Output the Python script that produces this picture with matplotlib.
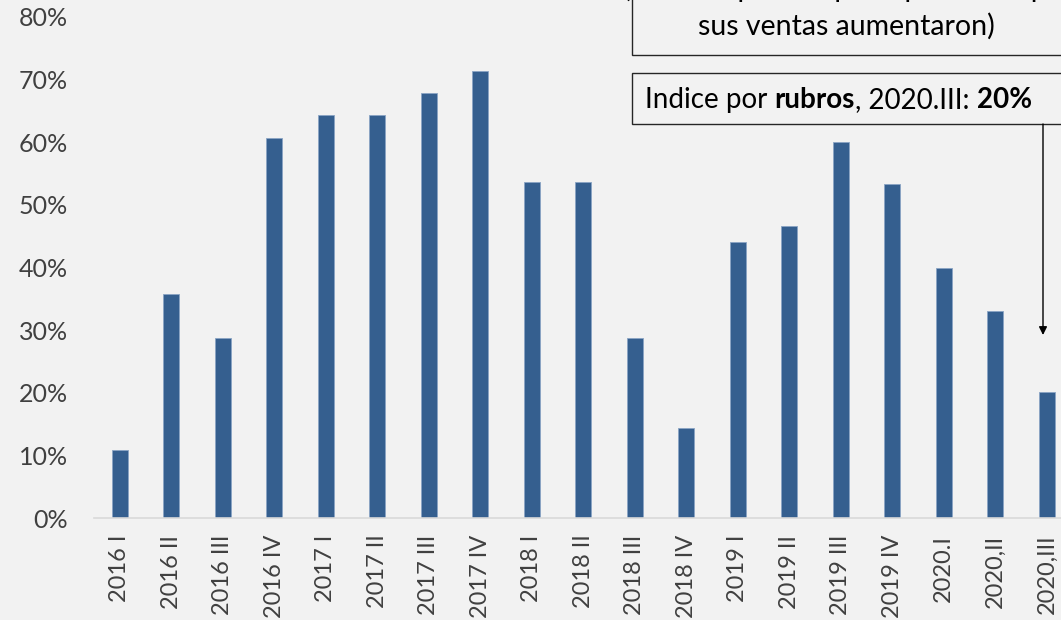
import numpy as np
import matplotlib.pyplot as plt
from matplotlib.patches import Rectangle

plt.rcParams['font.family'] = ['Lato', 'DejaVu Sans']

trimestres = ['2016 I', '2016 II', '2016 III', '2016 IV',
              '2017 I', '2017 II', '2017 III', '2017 IV',
              '2018 I', '2018 II', '2018 III', '2018 IV',
              '2019 I', '2019 II', '2019 III', '2019 IV',
              '2020.I', '2020,II', '2020,III']
indice = [10.9, 35.8, 28.7, 60.7, 64.3, 64.3, 67.8, 71.4,
          53.6, 53.6, 28.7, 14.4, 44.0, 46.7, 60.0, 53.4,
          40.0, 33.1, 20.1]
yticks = [0, 10, 20, 30, 40, 50, 60, 70, 80]

fondo = '#f2f2f2'
W, H = 1061, 620
fig = plt.figure(figsize=(W / 100, H / 100), dpi=100, facecolor=fondo)
# el grafico original esta recortado a la derecha
ax = fig.add_axes([94 / W, 1 - 518 / H, 19 * 51.5 / W, 501 / H], facecolor=fondo)

x = np.arange(len(trimestres))
ax.bar(x, np.array(indice) / 100, width=0.31, color='#355f8f',
       edgecolor='#8aa4c4', linewidth=0.6)

ax.set_xlim(-0.5, len(trimestres) - 0.5)
ax.set_ylim(0, 0.8)
ax.set_yticks([v / 100 for v in yticks])
ax.set_yticklabels([f'{v}%' for v in yticks], fontsize=18, color='#404040')
ax.set_xticks(x)
ax.set_xticklabels(trimestres, rotation=90, fontsize=17, color='#404040')
ax.tick_params(length=0, axis='both')
ax.tick_params(axis='y', pad=19)
ax.tick_params(axis='x', pad=12)
for s in ['top', 'right', 'left']:
    ax.spines[s].set_visible(False)
ax.spines['bottom'].set_color('#d9d9d9')
ax.spines['bottom'].set_linewidth(1.2)

# cuadros de texto
fig.patches.append(Rectangle((632 / W, 1 - 55 / H), 0.5, 0.5, transform=fig.transFigure,
                             facecolor=fondo, edgecolor='#262626', linewidth=1))
fig.text(846 / W, 1 + 12 / H, '(% de empresas que reportaron que', ha='center', va='center',
         fontsize=20.5, color='black')
fig.text(846 / W, 1 - 26 / H, 'sus ventas aumentaron)', ha='center', va='center',
         fontsize=20.5, color='black')

fig.patches.append(Rectangle((632 / W, 1 - 124 / H), 0.5, 51 / H, transform=fig.transFigure,
                             facecolor=fondo, edgecolor='#262626', linewidth=1))
t = fig.text(645 / W, 1 - 108 / H, 'Indice por ', fontsize=20, va='baseline')
fig.canvas.draw()
r = fig.canvas.get_renderer()
partes = [('rubros', 'bold'), (', 2020.III: ', 'normal'), ('20%', 'bold')]
x0 = t.get_window_extent(r).x1
for txt, peso in partes:
    t = fig.text(x0 / W, 1 - 108 / H, txt, fontsize=20, fontweight=peso, va='baseline')
    fig.canvas.draw()
    x0 = t.get_window_extent(r).x1

fig.add_artist(plt.Annotation('', xy=(1043, H - 335), xytext=(1043, H - 124),
                              xycoords='figure pixels', textcoords='figure pixels',
                              arrowprops=dict(arrowstyle='-|>', color='black', lw=1,
                                              mutation_scale=12, shrinkA=0, shrinkB=0)))

fig.savefig('out.png', dpi=100, facecolor=fondo)
